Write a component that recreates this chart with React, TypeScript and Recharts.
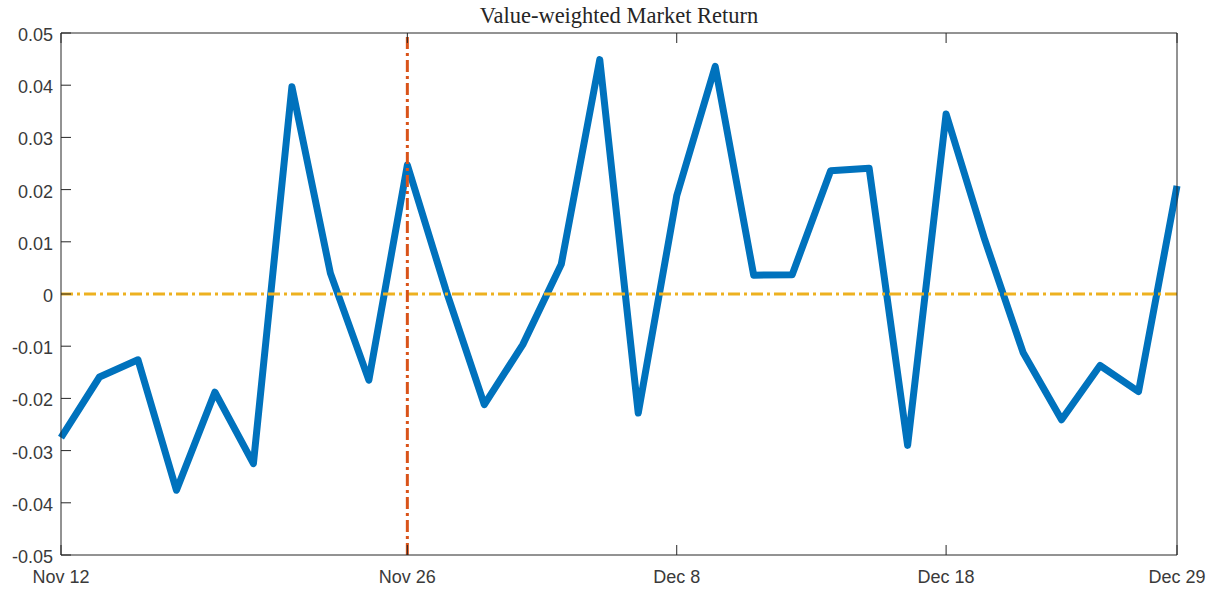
import { LineChart, Line, XAxis, YAxis, ReferenceLine } from "recharts";

// daily value-weighted market return, one point per trading day
const dayIndex = [
  0, 1, 2, 3, 4, 5, 6, 7, 8, 9, 10, 11, 12, 13, 14, 15, 16, 17, 18, 19, 20, 21,
  22, 23, 24, 25, 26, 27, 28, 29,
];
const returns = [
  -0.0275, -0.0159, -0.0126, -0.0376, -0.0188, -0.0325, 0.0397, 0.004, -0.0165,
  0.0247, 0.0008, -0.0212, -0.0097, 0.0057, 0.0449, -0.0228, 0.0188, 0.0436,
  0.0036, 0.0037, 0.0236, 0.0241, -0.029, 0.0345, 0.0105, -0.0112, -0.0241,
  -0.0137, -0.0187, 0.0207,
];
const tickDays = [0, 9, 16, 23, 29];
const tickLabels = ["Nov 12", "Nov 26", "Dec 8", "Dec 18", "Dec 29"];
const yTicks = [-0.05, -0.04, -0.03, -0.02, -0.01, 0, 0.01, 0.02, 0.03, 0.04, 0.05];
const eventDay = 9;

const data = dayIndex.map((d, i) => ({ day: d, ret: returns[i] }));

const AXIS = "#262626";
const LABEL = "#3a3a3a";
const FONT = "'Liberation Sans', Arial, Helvetica, sans-serif";
const TICK_LEN = 10;

// MATLAB-style ticks: line points into the plot, label sits outside
function BottomTick(props: any) {
  const { x, y, payload } = props;
  const i = tickDays.indexOf(payload.value);
  return (
    <g>
      <line x1={x} y1={y} x2={x} y2={y - TICK_LEN} stroke={AXIS} strokeWidth={1} />
      <text x={x} y={y + 28} textAnchor="middle" fill={LABEL} fontSize={18} fontFamily={FONT}>
        {i >= 0 ? tickLabels[i] : ""}
      </text>
    </g>
  );
}

function TopTick(props: any) {
  const { x, y } = props;
  return <line x1={x} y1={y} x2={x} y2={y + TICK_LEN} stroke={AXIS} strokeWidth={1} />;
}

function LeftTick(props: any) {
  const { x, y, payload } = props;
  const v = payload.value;
  const label = Math.abs(v) < 1e-9 ? "0" : v.toFixed(2);
  return (
    <g>
      <line x1={x} y1={y} x2={x + TICK_LEN} y2={y} stroke={AXIS} strokeWidth={1} />
      <text x={x - 8} y={y + 8} textAnchor="end" fill={LABEL} fontSize={18} fontFamily={FONT}>
        {label}
      </text>
    </g>
  );
}

function RightTick(props: any) {
  const { x, y } = props;
  return <line x1={x} y1={y} x2={x - TICK_LEN} y2={y} stroke={AXIS} strokeWidth={1} />;
}

export default function App() {
  return (
    <div style={{ position: "absolute", left: 0, top: 0, width: 1219, height: 590, background: "#fff" }}>
      <svg width={1219} height={30} style={{ position: "absolute", left: 0, top: 0 }}>
        <text
          x={619}
          y={23}
          textAnchor="middle"
          fill="#262626"
          fontSize={22.5}
          fontFamily="'Liberation Serif', 'Times New Roman', Times, serif"
        >
          Value-weighted Market Return
        </text>
      </svg>
      <LineChart width={1219} height={590} data={data} margin={{ top: 0, right: 0, bottom: 0, left: 0 }}>
        <XAxis
          dataKey="day"
          type="number"
          domain={[0, 29]}
          ticks={tickDays}
          height={35}
          tickSize={0}
          tickMargin={0}
          axisLine={{ stroke: AXIS }}
          tickLine={false}
          tick={<BottomTick />}
          interval={0}
        />
        <XAxis
          xAxisId="top"
          orientation="top"
          dataKey="day"
          type="number"
          domain={[0, 29]}
          ticks={tickDays}
          height={33}
          tickSize={0}
          tickMargin={0}
          axisLine={{ stroke: AXIS }}
          tickLine={false}
          tick={<TopTick />}
          interval={0}
        />
        <YAxis
          type="number"
          domain={[-0.05, 0.05]}
          ticks={yTicks}
          width={61}
          tickSize={0}
          tickMargin={0}
          axisLine={{ stroke: AXIS }}
          tickLine={false}
          tick={<LeftTick />}
          interval={0}
        />
        <YAxis
          yAxisId="right"
          orientation="right"
          type="number"
          domain={[-0.05, 0.05]}
          ticks={yTicks}
          width={42}
          tickSize={0}
          tickMargin={0}
          axisLine={{ stroke: AXIS }}
          tickLine={false}
          tick={<RightTick />}
          interval={0}
        />
        <Line
          type="linear"
          dataKey="ret"
          stroke="#0072BD"
          strokeWidth={7}
          strokeLinejoin="round"
          dot={false}
          activeDot={false}
          isAnimationActive={false}
        />
        <ReferenceLine y={0} stroke="#EDB120" strokeWidth={3} strokeDasharray="12 4 3 4" />
        <ReferenceLine x={eventDay} stroke="#D95319" strokeWidth={3} strokeDasharray="12 4 3 4" />
      </LineChart>
    </div>
  );
}
